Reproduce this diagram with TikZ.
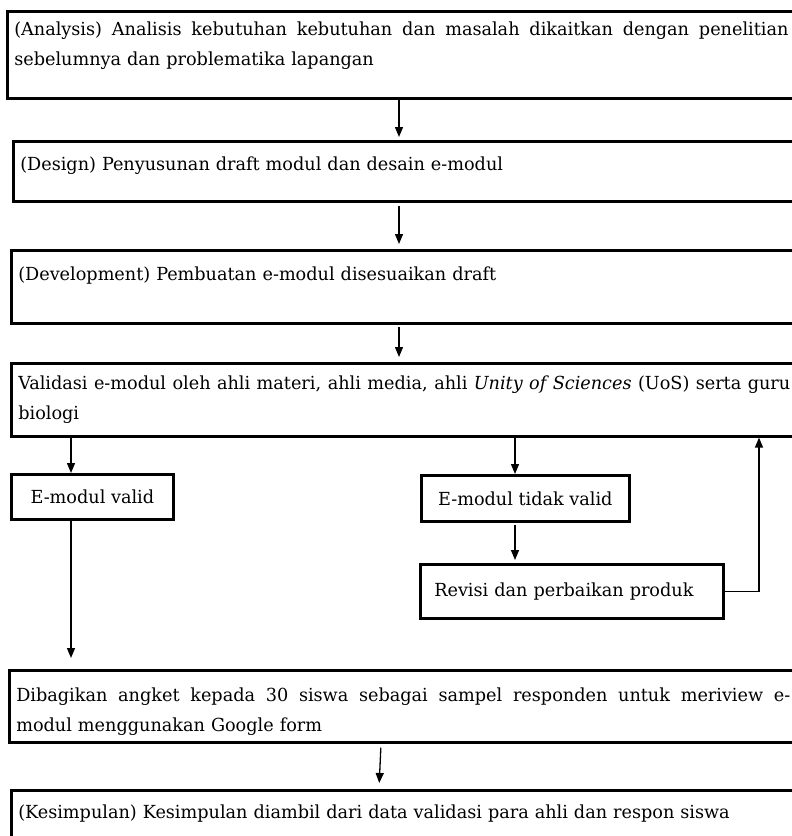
\documentclass[tikz,border=0pt]{standalone}
\usepackage{fontspec}
\setmainfont{DejaVu Serif Condensed}[FakeStretch=1.09]
\usetikzlibrary{arrows.meta}

% a first line set full width, spaces stretched
\newcommand{\fullline}[2]{\makebox[#1][s]{\spaceskip=0pt\xspaceskip=0pt #2}}

\tikzset{
  stage/.style={draw, line width=2.6pt, anchor=north west, align=left,
    text width=776pt, inner xsep=7pt, inner ysep=0pt},
  result/.style={draw, line width=2.6pt, anchor=north west, inner sep=0pt},
  flow/.style={line width=1.3pt, -{Triangle[length=10pt,width=8pt]}},
}

\begin{document}
\begin{tikzpicture}[x=1pt, y=-1pt, font=\fontsize{18}{30}\selectfont]
\path[use as bounding box, clip] (0,0) rectangle (792,836);

% columns of the arrows
\coordinate (colM) at (399,0);
\coordinate (colA) at (71,0);
\coordinate (colB) at (515,0);
\coordinate (colC) at (759,0);
\coordinate (colD) at (381,0);
\coordinate (colE) at (379,0);

% stages
\node[stage, text height=24pt, text depth=63pt] (analysis) at (6,10)
  {\fullline{774pt}{(Analysis) Analisis kebutuhan kebutuhan dan masalah dikaitkan dengan penelitian}\\
   sebelumnya dan problematika lapangan};
\node[stage, text height=29pt, text depth=31pt] (design) at (12,140)
  {(Design) Penyusunan draft modul dan desain e-modul};
\node[stage, text height=30pt, text depth=43pt] (development) at (10,249)
  {(Development) Pembuatan e-modul disesuaikan draft};
\node[stage, text height=26pt, text depth=47pt] (validasi) at (10,362)
  {\fullline{772pt}{Validasi e-modul oleh ahli materi, ahli media, ahli \textit{Unity of Sciences} (UoS) serta guru}\\
   biologi};

\node[result, minimum width=162pt, minimum height=45pt] (valid) at (10,473) {E-modul valid};
\node[result, minimum width=208pt, minimum height=46pt] (invalid) at (420,474) {E-modul tidak valid};
\node[result, minimum height=54pt, text width=275pt, inner xsep=14pt, align=left] (revisi) at (419,563)
  {Revisi dan perbaikan produk};

\node[stage, text height=31pt, text depth=41pt] (angket) at (8,669)
  {\fullline{774pt}{Dibagikan angket kepada 30 siswa sebagai sampel responden untuk meriview e-}\\
   modul menggunakan Google form};
\node[stage, text height=28pt, text depth=60pt] (kesimpulan) at (10,789)
  {(Kesimpulan) Kesimpulan diambil dari data validasi para ahli dan respon siswa};

% arrows
\draw[flow, shorten >=3pt] (analysis.south -| colM) -- (design.north -| colM);
\draw[flow, shorten <=3pt, shorten >=5pt] (design.south -| colM) -- (development.north -| colM);
\draw[flow, shorten <=2pt, shorten >=5pt] (development.south -| colM) -- (validasi.north -| colM);
\draw[flow] (validasi.south -| colA) -- (valid.north -| colA);
\draw[flow] (validasi.south -| colB) -- (invalid.north -| colB);
\draw[flow, shorten <=2pt, shorten >=3pt] (invalid.south -| colB) -- (revisi.north -| colB);
\draw[flow] (revisi.east) -| (validasi.south -| colC);
\draw[flow, shorten >=11pt] (valid.south -| colA) -- (angket.north -| colA);
\draw[flow, shorten <=4pt, shorten >=6pt] (angket.south -| colD) -- (kesimpulan.north -| colE);
\end{tikzpicture}
\end{document}
